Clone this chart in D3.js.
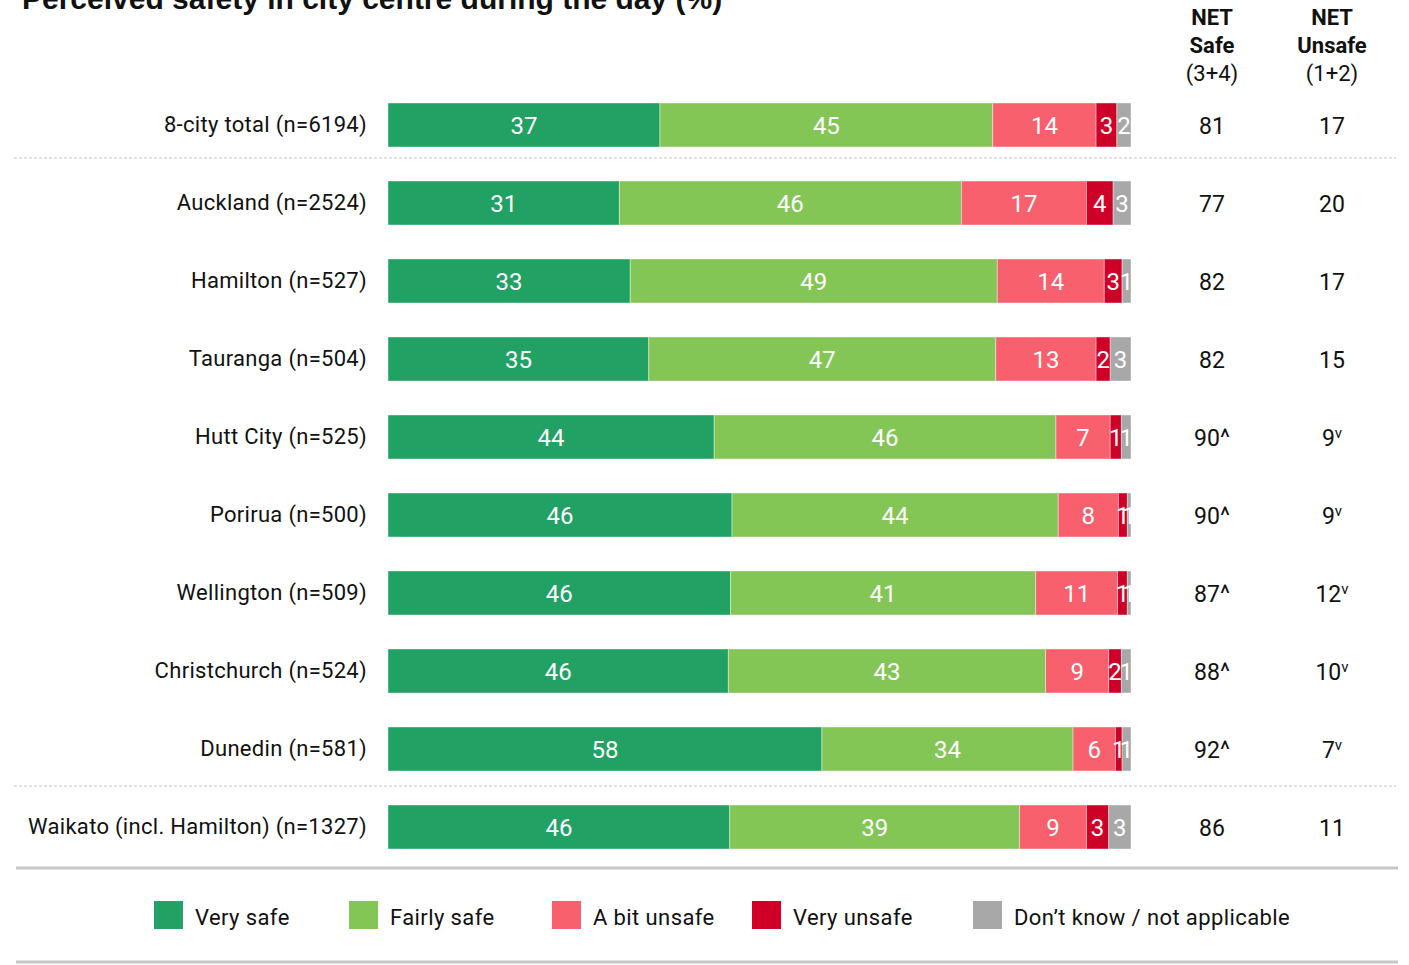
<!DOCTYPE html>
<html>
<head>
<script src="https://cdn.jsdelivr.net/npm/d3@7"></script>
<style>
  body { margin: 0; background: #fff; }
  text { font-family: Roboto, "Noto Sans", sans-serif; }
</style>
</head>
<body>
<div id="chart"></div>
<script>
// data
var groups = ["8-city total (n=6194)", "Auckland (n=2524)", "Hamilton (n=527)", "Tauranga (n=504)",
  "Hutt City (n=525)", "Porirua (n=500)", "Wellington (n=509)", "Christchurch (n=524)",
  "Dunedin (n=581)", "Waikato (incl. Hamilton) (n=1327)"];
var keys = ["Very safe", "Fairly safe", "A bit unsafe", "Very unsafe", "Don\u2019t know / not applicable"];
// shares (%)
var verySafe   = [36.6, 31.1, 32.6, 35.1, 43.9, 46.3, 46.0, 45.8, 58.4, 46.0];
var fairlySafe = [44.8, 46.0, 49.4, 46.7, 46.0, 43.9, 41.0, 42.7, 33.8, 39.0];
var bitUnsafe  = [13.9, 16.8, 14.4, 13.5, 7.3, 8.1, 11.0, 8.5, 5.7, 9.0];
var veryUnsafe = [2.8, 3.6, 2.4, 1.9, 1.5, 1.2, 1.3, 1.7, 0.9, 3.0];
var dontKnow   = [1.9, 2.4, 1.2, 2.8, 1.3, 0.5, 0.5, 1.3, 1.2, 3.0];
// printed labels
var verySafeLab   = [37, 31, 33, 35, 44, 46, 46, 46, 58, 46];
var fairlySafeLab = [45, 46, 49, 47, 46, 44, 41, 43, 34, 39];
var bitUnsafeLab  = [14, 17, 14, 13, 7, 8, 11, 9, 6, 9];
var veryUnsafeLab = [3, 4, 3, 2, 1, 1, 1, 2, 1, 3];
var dontKnowLab   = [2, 3, 1, 3, 1, 1, 1, 1, 1, 3];
var netSafe    = ["81", "77", "82", "82", "90", "90", "87", "88", "92", "86"];
var netUnsafe  = ["17", "20", "17", "15", "9", "9", "12", "10", "7", "11"];
var safeMark   = ["", "", "", "", "^", "^", "^", "^", "^", ""];
var unsafeMark = ["", "", "", "", "v", "v", "v", "v", "v", ""];
var colors = ["#21a163", "#84c655", "#f7606c", "#cf0027", "#a8a8a8"];

var width = 1409, height = 965;
var svg = d3.select("#chart").append("svg")
  .attr("width", width).attr("height", height);

var vals = [verySafe, fairlySafe, bitUnsafe, veryUnsafe, dontKnow];
var labs = [verySafeLab, fairlySafeLab, bitUnsafeLab, veryUnsafeLab, dontKnowLab];
var rows = groups.map(function(g, i) {
  var r = { group: g, idx: i };
  keys.forEach(function(k, j) { r[k] = vals[j][i]; });
  return r;
});

var stack = d3.stack().keys(keys).offset(d3.stackOffsetExpand);
var series = stack(rows);

var x = d3.scaleLinear().domain([0, 1]).range([388, 1131]);
var y = d3.scaleBand().domain(groups).range([86, 866]).paddingInner(0.436).paddingOuter(0.218);
var color = d3.scaleOrdinal().domain(keys).range(colors);

// title (cut off at top)
svg.append("text")
  .attr("x", 22).attr("y", 9)
  .style("font-family", "'Liberation Sans', Arial, sans-serif")
  .attr("font-size", 30).attr("font-weight", "bold").attr("fill", "#111")
  .text("Perceived safety in city centre during the day (%)");

// column headers
var heads = [{ x: 1212, l: ["NET", "Safe", "(3+4)"] }, { x: 1332, l: ["NET", "Unsafe", "(1+2)"] }];
heads.forEach(function(h) {
  h.l.forEach(function(t, j) {
    svg.append("text")
      .attr("x", h.x).attr("y", 25 + j * 28)
      .attr("text-anchor", "middle")
      .attr("font-size", 22)
      .attr("font-weight", j < 2 ? "bold" : "normal")
      .attr("fill", "#111")
      .text(t);
  });
});

// bars
var layer = svg.selectAll("g.layer").data(series).enter().append("g")
  .attr("class", "layer")
  .attr("fill", function(d) { return color(d.key); });

layer.selectAll("rect").data(function(d) { return d; }).enter().append("rect")
  .attr("x", function(d) { return x(d[0]); })
  .attr("y", function(d) { return y(d.data.group); })
  .attr("width", function(d) { return x(d[1]) - x(d[0]); })
  .attr("height", y.bandwidth())
  .attr("stroke", "#fff").attr("stroke-opacity", 0.5).attr("stroke-width", 0.8);

layer.selectAll("text").data(function(d) { return d.map(function(e) { return { s: e, k: d.index }; }); })
  .enter().append("text")
  .attr("x", function(d) { return (x(d.s[0]) + x(d.s[1])) / 2; })
  .attr("y", function(d) { return y(d.s.data.group) + y.bandwidth() / 2; })
  .attr("dy", "0.36em")
  .attr("text-anchor", "middle")
  .attr("font-size", 24)
  .attr("fill", "#fff")
  .text(function(d) { return labs[d.k][d.s.data.idx]; });

// row labels
svg.selectAll("text.lab").data(groups).enter().append("text")
  .attr("class", "lab")
  .attr("x", 367)
  .attr("y", function(d) { return y(d) + y.bandwidth() / 2; })
  .attr("dy", "0.3em")
  .attr("text-anchor", "end")
  .attr("font-size", 22)
  .attr("letter-spacing", 0.3)
  .attr("fill", "#111")
  .text(function(d) { return d; });

// NET columns
function netCol(v, marks, cx, fs, up) {
  var t = svg.selectAll(null).data(v).enter().append("text")
    .attr("x", cx)
    .attr("y", function(d, i) { return y(groups[i]) + y.bandwidth() / 2; })
    .attr("dy", "0.4em")
    .attr("text-anchor", "middle")
    .attr("font-size", 23)
    .attr("fill", "#111");
  t.append("tspan").text(function(d) { return d; });
  t.append("tspan")
    .attr("font-size", fs)
    .attr("dy", up)
    .text(function(d, i) { return marks[i]; });
}
netCol(netSafe, safeMark, 1212, 24, 0);
netCol(netUnsafe, unsafeMark, 1332, 15, -8);

// separators
[158, 786].forEach(function(yy) {
  svg.append("line")
    .attr("x1", 14).attr("x2", 1396).attr("y1", yy).attr("y2", yy)
    .attr("stroke", "#c4c4c4").attr("stroke-width", 1).attr("stroke-dasharray", "3,2");
});
[868, 962].forEach(function(yy) {
  svg.append("line")
    .attr("x1", 16).attr("x2", 1398).attr("y1", yy).attr("y2", yy)
    .attr("stroke", "#c8c8c8").attr("stroke-width", 3);
});

// legend
var legX = [154, 349, 552, 752, 973];
var leg = svg.selectAll("g.leg").data(keys).enter().append("g")
  .attr("class", "leg")
  .attr("transform", function(d, i) { return "translate(" + legX[i] + ",901)"; });
leg.append("rect").attr("width", 29).attr("height", 28)
  .attr("fill", function(d) { return color(d); });
leg.append("text").attr("x", 41).attr("y", 24)
  .attr("font-size", 22).attr("letter-spacing", 0.4).attr("fill", "#111")
  .text(function(d) { return d; });
</script>
</body>
</html>
